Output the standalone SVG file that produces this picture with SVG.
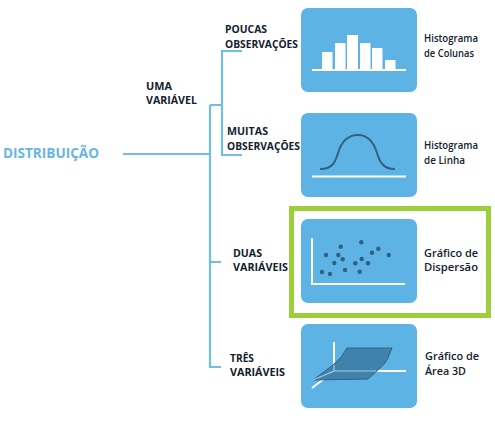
<svg xmlns="http://www.w3.org/2000/svg" width="495" height="421" viewBox="0 0 495 421">
<style>
text{font-family:"Open Sans","Liberation Sans",sans-serif;fill:#14202e}
.c{font-size:10px;font-weight:700}
.n{font-size:10.5px;font-weight:600}
.b{fill:#5cb3e4}
.w{stroke:#fff;stroke-width:2;fill:none}
.d{fill:#34607f}
#connectors path{fill:none;stroke:#72bce9;stroke-width:2.2}
</style>
<rect width="495" height="421" fill="#fff"/>
<g id="connectors">
<path d="M123 154H210M210 105V367H221M210 262H221M210 105H222M242 51H222V155H242"/>
</g>
<g id="root"><text x="3" y="158" textLength="96" lengthAdjust="spacingAndGlyphs" style="font-size:14px;font-weight:700;fill:#66b6e8">DISTRIBUIÇÃO</text></g>
<g id="uma"><text class="c" x="146" y="90" textLength="26" lengthAdjust="spacingAndGlyphs">UMA</text><text class="c" x="146" y="104" textLength="51" lengthAdjust="spacingAndGlyphs">VARIÁVEL</text></g>
<g id="poucas"><text class="c" x="225" y="33" textLength="42" lengthAdjust="spacingAndGlyphs">POUCAS</text><text class="c" x="225" y="48" textLength="73" lengthAdjust="spacingAndGlyphs">OBSERVAÇÕES</text></g>
<g id="muitas"><text class="c" x="227" y="135" textLength="41" lengthAdjust="spacingAndGlyphs">MUITAS</text><text class="c" x="227" y="150" textLength="73" lengthAdjust="spacingAndGlyphs">OBSERVAÇÕES</text></g>
<g id="duas"><text class="c" x="233" y="257" textLength="29" lengthAdjust="spacingAndGlyphs">DUAS</text><text class="c" x="233" y="271" textLength="55" lengthAdjust="spacingAndGlyphs">VARIÁVEIS</text></g>
<g id="tres"><text class="c" x="230" y="362" textLength="24" lengthAdjust="spacingAndGlyphs">TRÊS</text><text class="c" x="230" y="376" textLength="55" lengthAdjust="spacingAndGlyphs">VARIÁVEIS</text></g>
<g id="histograma-colunas">
<rect class="b" x="301" y="8" width="116" height="84" rx="7"/>
<path fill="#fff" d="M322 52h10.500v18H322zM335 43h10.500v27H335zM347 35h11v35h-11zM360 43h10.500v27H360zM372 48h10.500v22H372zM385 60h10.500v10H385z"/>
<path class="w" d="M312 70H406"/>
<text class="n" x="424" y="42" textLength="54" lengthAdjust="spacingAndGlyphs">Histograma</text><text class="n" x="424" y="57" textLength="50" lengthAdjust="spacingAndGlyphs">de Colunas</text>
</g>
<g id="histograma-linha">
<rect class="b" x="301" y="113" width="116" height="84" rx="7"/>
<path class="w" d="M312 176.500H406"/>
<path d="M320 169C332 169 335 163 338 153C342 140 349 135 358 135C367 135 373 140 377 153C380 163 384 169 395 169" fill="none" stroke="#34607f" stroke-width="2"/>
<text class="n" x="424" y="149" textLength="54" lengthAdjust="spacingAndGlyphs">Histograma</text><text class="n" x="424" y="164" textLength="41" lengthAdjust="spacingAndGlyphs">de Linha</text>
</g>
<g id="dispersao">
<rect x="291.500" y="208.500" width="197" height="107" fill="none" stroke="#9ccf3a" stroke-width="5"/>
<rect class="b" x="301" y="219" width="116" height="84" rx="7"/>
<path class="w" d="M312 238V284H405"/>
<g class="d"><circle cx="322" cy="272" r="2.200"/><circle cx="330" cy="274" r="2.200"/><circle cx="334.300" cy="263" r="2.200"/><circle cx="326" cy="255" r="2.200"/><circle cx="340.700" cy="246.700" r="2.200"/><circle cx="338.300" cy="255" r="2.200"/><circle cx="342.700" cy="259.300" r="2.200"/><circle cx="345" cy="270" r="2.200"/><circle cx="355.300" cy="263.300" r="2.200"/><circle cx="359.700" cy="271.700" r="2.200"/><circle cx="361.700" cy="259" r="2.200"/><circle cx="361.300" cy="242.300" r="2.200"/><circle cx="368" cy="263.300" r="2.200"/><circle cx="372" cy="252.700" r="2.200"/><circle cx="378.300" cy="248.700" r="2.200"/><circle cx="388.700" cy="255" r="2.200"/></g>
<text class="n" x="424" y="257" textLength="54" lengthAdjust="spacingAndGlyphs">Gráfico de</text><text class="n" x="424" y="271" textLength="54" lengthAdjust="spacingAndGlyphs">Dispersão</text>
</g>
<g id="area-3d">
<rect class="b" x="301" y="324" width="116" height="84" rx="7"/>
<path class="w" d="M334 342V371H406M334 371L312 388"/>
<path d="M313 380L333 365Q342 358 347 348H392L387 360Q385 364 380 368L368 379Z" fill="#3f82ab" stroke="#2f6285" stroke-width="1"/>
<path d="M334 365V371L313 380M334 371H376" stroke="#a9c7dc" stroke-width="1.200" fill="none"/>
<text class="n" x="425" y="360" textLength="54" lengthAdjust="spacingAndGlyphs">Gráfico de</text><text class="n" x="425" y="375" textLength="41" lengthAdjust="spacingAndGlyphs">Área 3D</text>
</g>
</svg>
